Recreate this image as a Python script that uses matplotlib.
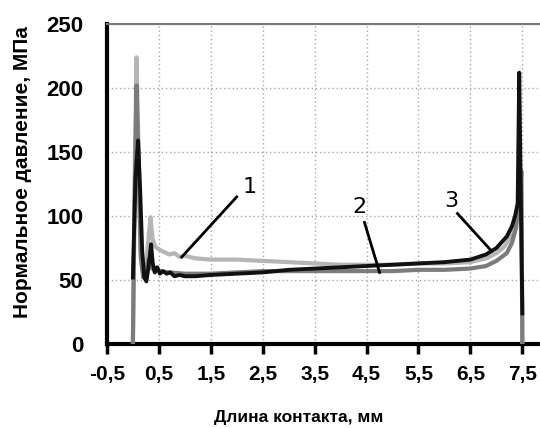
import matplotlib
matplotlib.use("Agg")
import matplotlib.pyplot as plt

# Curve 1 (light gray)
x1 = [0.0, 0.03, 0.07, 0.11, 0.15, 0.2, 0.25, 0.3, 0.34, 0.38, 0.43, 0.5, 0.6, 0.7, 0.8, 0.9, 1.0,
      1.2, 1.5, 2.0, 2.5, 3.0, 3.5, 4.0, 4.5, 5.0, 5.5, 6.0, 6.5, 6.8, 7.0, 7.15, 7.25, 7.33, 7.4,
      7.45, 7.48, 7.5]
y1 = [0, 120, 224, 150, 75, 58, 62, 82, 99, 82, 76, 74, 72, 70, 71, 68, 69,
      67, 66, 66, 65, 64, 63, 62, 62, 62, 63, 63, 64, 67, 71, 76, 82, 90, 105,
      120, 135, 0]

# Curve 2 (medium gray)
x2 = [0.0, 0.03, 0.07, 0.11, 0.15, 0.2, 0.25, 0.3, 0.35, 0.4, 0.5, 0.7, 1.0, 1.5, 2.0, 2.5, 3.0,
      3.5, 4.0, 4.5, 5.0, 5.5, 6.0, 6.5, 6.8, 7.0, 7.2, 7.3, 7.38, 7.44, 7.48, 7.5]
y2 = [0, 100, 202, 140, 68, 52, 56, 66, 60, 58, 57, 56, 55, 55, 56, 57, 57,
      57, 57, 57, 57, 58, 58, 59, 61, 65, 71, 79, 91, 112, 135, 0]

# Curve 3 (black)
x3 = [0.0, 0.05, 0.1, 0.14, 0.18, 0.22, 0.26, 0.3, 0.35, 0.38, 0.42, 0.47, 0.52, 0.58, 0.65, 0.72,
      0.8, 0.9, 1.0, 1.2, 1.5, 2.0, 2.5, 3.0, 3.5, 4.0, 4.5, 5.0, 5.5, 6.0, 6.5, 6.8, 7.0, 7.2,
      7.3, 7.36, 7.41, 7.44, 7.5]
y3 = [52, 130, 159, 120, 72, 52, 49, 60, 78, 64, 56, 60, 55, 57, 55, 56,
      53, 54, 53, 53, 54, 55, 56, 58, 59, 60, 61, 62, 63, 64, 66, 70, 75, 84,
      92, 100, 110, 212, 24]

xticks = [-0.5, 0.5, 1.5, 2.5, 3.5, 4.5, 5.5, 6.5, 7.5]
xticklabels = ["-0,5", "0,5", "1,5", "2,5", "3,5", "4,5", "5,5", "6,5", "7,5"]
yticks = [0, 50, 100, 150, 200, 250]

fig = plt.figure(figsize=(5.4, 4.28), dpi=100)
ax = fig.add_axes([0.198, 0.196, 0.802, 0.748])

ax.plot(x1, y1, color="#b5b5b5", lw=3.0, zorder=3)
ax.plot(x2, y2, color="#7c7c7c", lw=3.0, zorder=4)
ax.plot(x3, y3, color="#111111", lw=2.8, zorder=5)

ax.set_xlim(-0.5, 7.84)
ax.set_ylim(0, 250)
ax.set_xticks(xticks)
ax.set_xticklabels(xticklabels)
ax.set_yticks(yticks)

for lab in ax.get_xticklabels():
    lab.set_fontfamily("Liberation Sans")
    lab.set_fontweight("bold")
    lab.set_fontsize(15)
for lab in ax.get_yticklabels():
    lab.set_fontfamily("Liberation Sans")
    lab.set_fontweight("bold")
    lab.set_fontsize(16)

ax.tick_params(axis="x", direction="out", length=7, width=2.5, color="black", pad=8)
ax.tick_params(axis="y", length=0, pad=17)

ax.grid(True, linestyle=(0, (1, 2)), color="#a8a8a8", lw=1.0)
ax.set_axisbelow(True)

ax.spines["left"].set_linewidth(3)
ax.spines["left"].set_color("black")
ax.spines["bottom"].set_linewidth(3)
ax.spines["bottom"].set_color("black")
ax.spines["top"].set_linewidth(1.5)
ax.spines["top"].set_color("#777777")
ax.spines["right"].set_visible(False)

ax.set_xlabel("Длина контакта, мм", family="Liberation Sans", weight="bold", size=12.5)
ax.xaxis.set_label_coords(0.443, -0.206)
ax.set_ylabel("Нормальное давление, МПа", family="Liberation Sans", weight="bold", size=15)
ax.yaxis.set_label_coords(-0.173, 0.5375)

# annotations
ann = dict(color="black", lw=2)
ax.plot([0.94, 2.0], [68, 115], **ann, zorder=6)
ax.text(2.25, 123, "1", fontsize=16, ha="center", va="center")
ax.plot([4.46, 4.75], [95, 56], **ann, zorder=6)
ax.text(4.37, 107, "2", fontsize=16, ha="center", va="center")
ax.plot([6.25, 6.9], [102, 73], **ann, zorder=6)
ax.text(6.13, 112, "3", fontsize=16, ha="center", va="center")

fig.savefig("out.png", dpi=100)
